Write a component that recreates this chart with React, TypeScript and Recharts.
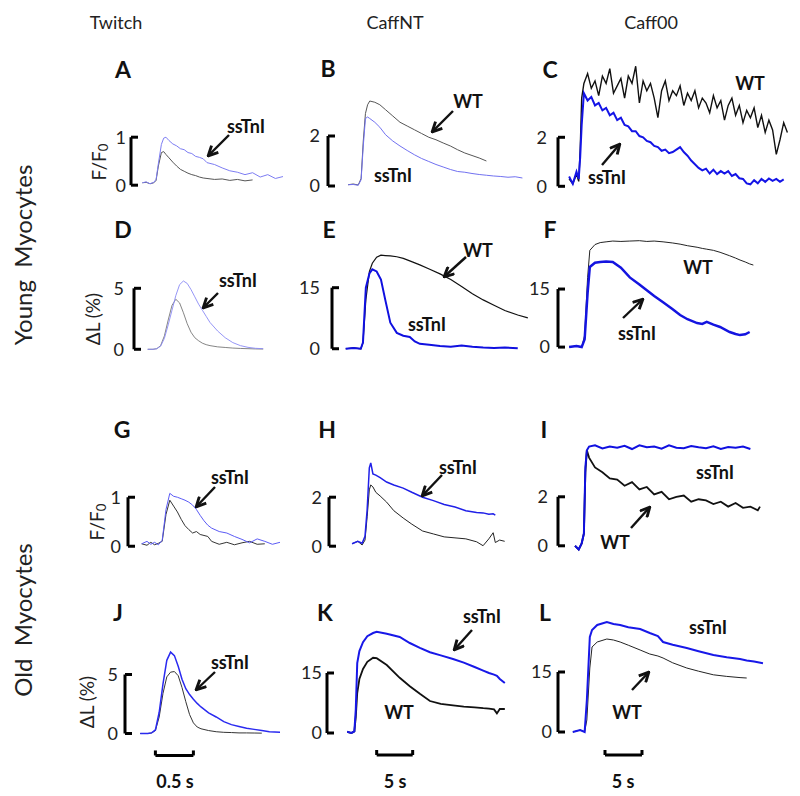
import React from 'react';
import { LineChart, Line, XAxis, YAxis, ReferenceLine } from 'recharts';

const FONT = 'Lato, "Open Sans", sans-serif';

// ---- Twitch column (time in s) ----
const tA = [0.15, 0.2, 0.25, 0.3, 0.33, 0.36, 0.4, 0.43, 0.46, 0.5, 0.55, 0.6, 0.65, 0.7, 0.75, 0.8, 0.85, 0.9, 0.95, 1.0, 1.1, 1.2, 1.3, 1.4, 1.5, 1.6, 1.7, 1.8, 1.9, 2.0];
const wtA = [0.05, 0.06, 0.03, 0.05, 0.1, 0.4, 0.68, 0.7, 0.64, 0.57, 0.48, 0.4, 0.33, 0.29, 0.25, 0.22, 0.2, 0.17, 0.15, 0.14, 0.12, 0.13, 0.1, 0.12, 0.09, 0.11, null, null, null, null];
const ssA = [0.05, 0.07, 0.03, 0.06, 0.12, 0.45, 0.85, 0.98, 1.0, 0.93, 0.86, 0.82, 0.76, 0.74, 0.68, 0.66, 0.6, 0.58, 0.55, 0.47, 0.43, 0.36, 0.3, 0.27, 0.22, 0.26, 0.17, 0.22, 0.14, 0.18];

const tD = [0.18, 0.25, 0.3, 0.35, 0.4, 0.45, 0.5, 0.55, 0.6, 0.65, 0.7, 0.75, 0.8, 0.85, 0.9, 0.95, 1.0, 1.1, 1.2, 1.3, 1.4, 1.5, 1.6, 1.7];
const wtD = [0, 0, 0.05, 0.3, 1.1, 2.4, 3.6, 4.1, 3.8, 3.0, 2.1, 1.4, 0.95, 0.7, 0.5, 0.38, 0.3, 0.2, 0.15, 0.1, 0.07, 0.05, 0.03, 0.02];
const ssD = [0, 0, 0.05, 0.25, 0.9, 2.0, 3.2, 4.4, 5.3, 5.6, 5.4, 4.9, 4.3, 3.7, 3.2, 2.7, 2.2, 1.5, 0.95, 0.55, 0.3, 0.16, 0.08, 0.05];

const tG = [0.18, 0.25, 0.3, 0.35, 0.4, 0.45, 0.5, 0.55, 0.6, 0.65, 0.7, 0.75, 0.8, 0.85, 0.9, 0.95, 1.0, 1.05, 1.1, 1.2, 1.3, 1.4, 1.5, 1.6, 1.7, 1.8, 1.9, 2.0];
const wtG = [0.05, 0.02, 0.08, 0.03, 0.06, 0.1, 0.65, 0.94, 0.82, 0.7, 0.55, 0.42, 0.34, 0.27, 0.3, 0.24, 0.22, 0.2, 0.1, 0.04, 0.08, 0.03, 0.07, 0.1, 0.04, 0.05, null, null];
const ssG = [0.05, 0.1, 0.04, 0.08, 0.03, 0.12, 0.75, 1.08, 1.02, 1.0, 0.97, 0.94, 0.9, 0.84, 0.75, 0.63, 0.52, 0.43, 0.37, 0.3, 0.27, 0.2, 0.14, 0.07, 0.15, 0.1, 0.04, 0.08];

const tJ = [0.2, 0.3, 0.35, 0.4, 0.45, 0.5, 0.55, 0.6, 0.65, 0.7, 0.75, 0.8, 0.85, 0.9, 0.95, 1.0, 1.1, 1.2, 1.3, 1.4, 1.5, 1.6, 1.7, 1.8, 1.9, 2.04];
const wtJ = [0, 0, 0.05, 0.25, 1.4, 3.4, 4.8, 5.2, 5.25, 4.9, 3.9, 2.7, 1.6, 0.9, 0.55, 0.4, 0.25, 0.15, 0.1, 0.08, 0.05, 0.05, 0.04, 0.03, null, null];
const ssJ = [0, 0, 0.05, 0.3, 1.8, 4.2, 6.2, 6.9, 6.6, 5.7, 4.6, 3.8, 3.3, 2.9, 2.55, 2.25, 1.75, 1.4, 1.0, 0.75, 0.6, 0.45, 0.35, 0.25, 0.15, 0.1];

// ---- CaffNT column ----
const tB = [2.8, 3.5, 4.2, 4.6, 4.9, 5.2, 5.5, 5.8, 6.5, 7.2, 8, 9, 10, 11, 12, 13, 14, 15, 16, 17, 18, 19, 20, 21, 22, 23, 24, 25, 26, 27];
const wtB = [0.05, 0.08, 0.04, 0.3, 1.8, 2.9, 3.25, 3.4, 3.35, 3.25, 3.05, 2.8, 2.55, 2.4, 2.25, 2.1, 1.95, 1.85, 1.72, 1.6, 1.45, 1.32, 1.22, 1.12, 1.0, null, null, null, null, null];
const ssB = [0.05, 0.06, 0.03, 0.25, 1.6, 2.7, 2.76, 2.7, 2.55, 2.35, 2.05, 1.8, 1.6, 1.42, 1.25, 1.1, 0.98, 0.86, 0.76, 0.66, 0.58, 0.55, 0.5, 0.46, 0.43, 0.4, 0.38, 0.35, 0.37, 0.32];

const tE = [1.9, 3, 4, 4.3, 4.7, 5.2, 5.6, 6.2, 6.8, 7.4, 8.1, 9, 9.9, 10.8, 11.5, 12.2, 13.5, 15, 16.5, 18, 19.5, 21, 22.5, 24, 25.8, 27.2];
const wtE = [0, 0.2, 0, 1.5, 12, 19, 21, 22.5, 23, 22.9, 22.8, 22.6, 22.2, 21.6, 21.1, 20.6, 19.6, 18.4, 17.0, 15.3, 13.5, 12.0, 10.7, 9.4, 8.3, 7.6];
const ssE = [0, 0.2, 0, 1.5, 15, 18.5, 19.5, 19, 17, 12, 6.4, 3.9, 3.2, 2.9, 1.8, 1.2, 1.0, 0.7, 0.5, 0.8, 0.5, 0.3, 0.2, 0.3, 0.1, null];

const tH = [3.2, 4, 4.6, 5, 5.3, 5.6, 5.8, 6.1, 6.5, 7.1, 8, 9, 10.3, 11.5, 13, 14.5, 16, 17.5, 19, 20.5, 21.4, 22.2, 22.8, 23.1, 23.7, 24.4];
const wtH = [0.1, 0.2, 0.05, 0.25, 1.2, 2.3, 2.5, 2.42, 2.2, 2.05, 1.8, 1.45, 1.15, 0.9, 0.62, 0.5, 0.38, 0.34, 0.3, 0.18, 0.02, 0.3, 0.55, 0.15, 0.25, 0.2];
const ssH = [0.1, 0.2, 0.12, 0.4, 1.5, 3.2, 3.4, 2.95, 2.9, 2.8, 2.62, 2.5, 2.37, 2.2, 2.0, 1.86, 1.7, 1.6, 1.45, 1.38, 1.36, 1.3, 1.32, 1.27, null, null];

const tK = [2.8, 3.4, 3.8, 4.0, 4.2, 4.5, 5.0, 5.6, 6.4, 6.9, 8.3, 10.1, 11.5, 12.9, 14.3, 15.8, 17.5, 19, 20.5, 21.7, 22.5, 23.2, 23.6, 24, 24.7];
const wtK = [0.3, 0, 0.4, 4, 10, 13.5, 16, 17.8, 18.8, 18.7, 17, 13.8, 11.7, 9.8, 8, 7.3, 6.9, 6.6, 6.4, 6.2, 6.1, 5.9, 4.9, 6.0, 6.0];
const ssK = [0.3, 0, 0.4, 6, 17.5, 20.5, 22.7, 24.2, 25, 25.3, 24.8, 24, 22.5, 21.3, 20.2, 19.4, 18.5, 17.6, 16.5, 15.6, 15, 14.6, 14.3, 13.5, 12.5];

// ---- Caff00 column ----
const tC = [1.5, 2, 2.5, 2.8, 3.0, 3.2, 3.5, 4, 4.5, 5, 5.5, 6, 6.5, 7, 7.5, 8, 8.5, 9, 9.5, 10, 10.5, 11, 11.5, 12, 12.5, 13, 13.5, 14, 14.5, 15, 15.5, 16, 16.5, 17, 17.5, 18, 18.5, 19, 19.5, 20, 20.5, 21, 21.5, 22, 22.5, 23, 23.5, 24, 24.5, 25, 25.5, 26, 26.5, 27, 27.5, 28, 28.5, 29, 29.5, 30, 30.5, 31];
const wtC = [0.3, 0.1, 0.5, 0.2, 1.5, 3.6, 4.2, 4.6, 4.0, 4.3, 3.7, 4.5, 4.2, 4.8, 3.8, 4.1, 4.4, 3.6, 4.5, 4.2, 4.9, 3.4, 4.3, 3.9, 4.2, 3.6, 2.8, 3.9, 4.3, 3.5, 3.9, 3.7, 4.1, 3.3, 3.8, 3.5, 3.9, 3.2, 3.6, 3.4, 3.0, 3.7, 3.2, 3.5, 2.7, 3.3, 3.6, 2.9, 3.3, 2.6, 3.1, 2.8, 3.2, 2.4, 2.9, 2.2, 2.7, 2.3, 1.3, 1.9, 2.6, 2.2];
const ssC = [0.4, 0.1, 0.6, 0.3, 1.2, 2.5, 3.8, 3.5, 3.65, 3.3, 3.4, 3.1, 3.2, 2.9, 3.0, 2.7, 2.8, 2.5, 2.45, 2.25, 2.25, 2.05, 2.0, 1.85, 1.8, 1.65, 1.6, 1.45, 1.5, 1.35, 1.4, 1.5, 1.6, 1.4, 1.25, 1.05, 0.9, 0.75, 0.65, 0.72, 0.52, 0.68, 0.5, 0.62, 0.52, 0.62, 0.42, 0.5, 0.33, 0.3, 0.12, 0.08, 0.25, 0.12, 0.3, 0.18, 0.32, 0.22, 0.3, 0.18, 0.28, null];

const tF = [1.5, 2.5, 3.2, 3.6, 4.0, 4.3, 5, 5.7, 6.5, 7.4, 8.5, 9.7, 11, 12, 13, 14.2, 15.5, 16.5, 17.5, 18.8, 19.5, 20.1, 21, 21.9, 23.2, 24, 24.6, 25.3, 25.9, 26.4];
const wtF = [0, 0.3, 0, 3, 18, 25, 26.5, 27, 27.2, 27.4, 27.3, 27.4, 27.5, 27.3, 27.4, 27.2, 26.9, 26.6, 26.2, 25.8, 25.5, 25.3, 25, 24.5, 23.6, 23, 22.5, 22, 21.5, 21.2];
const ssF = [0, 0.3, 0, 2, 14, 20.7, 21.8, 22, 22.1, 22, 20.5, 18, 16.2, 14.7, 13.2, 11.6, 9.8, 8.3, 7.2, 6.2, 6.0, 6.5, 5.8, 5.2, 3.9, 3.4, 3.1, 3.3, 3.9, null];

const tI = [2.3, 2.8, 3.2, 3.5, 3.7, 3.9, 4.2, 5, 6, 7, 8, 9, 10, 11, 12, 13, 14, 15, 16, 17, 18, 19, 20, 21, 22, 23, 24, 25, 26, 27, 27.3];
const wtI = [0, -0.15, 0.1, 0.5, 3.0, 3.9, 3.6, 3.2, 3.0, 2.75, 2.7, 2.45, 2.6, 2.3, 2.4, 2.1, 2.2, 1.9, 2.0, 2.05, 1.8, 1.9, 1.85, 1.7, 1.8, 1.6, 1.75, 1.55, 1.6, 1.45, 1.6];
const ssI = [0, -0.15, 0.1, 0.5, 3.2, 3.9, 4.05, 4.1, 3.97, 4.05, 4.0, 4.08, 3.95, 4.1, 4.02, 4.05, 3.96, 4.1, 4.0, 3.98, 4.07, 4.02, 3.98, 4.06, 3.95, 4.03, 4.0, 4.05, 3.95, null, null];

const tL = [2, 3, 3.6, 3.9, 4.3, 4.6, 5.3, 6.6, 7.5, 8.4, 9.5, 11.1, 12.4, 13.5, 14.2, 15.5, 17.4, 19, 21, 22.8, 24.6, 25.5, 26.5, 27.7];
const wtL = [0, 0.5, 0, 3, 16, 21.25, 22.5, 23.25, 23, 22.5, 21.7, 20.5, 19.5, 19, 18.5, 17.3, 16, 15.2, 14.3, 13.9, 13.6, 13.5, null, null];
const ssL = [0, 0.5, 0, 8, 23.75, 25.5, 26.75, 27.5, 27, 26.75, 26.2, 25.75, 24.75, 24, 22.5, 21.8, 21, 20.2, 19.25, 18.7, 18.25, 17.9, 17.6, 17.2];

type Style = { c: string; w: number };
type PanelCfg = {
  t: number[]; wt: (number | null)[]; ss: (number | null)[];
  bar: number; barX: number; zero: number; ppu: number; pps: number;
  tHi: number; yMin: number; yMax: number; gap: number;
  wtS: Style; ssS: Style; timeBar?: [number, number, number];
};

const panels: PanelCfg[] = [
  { t: tA, wt: wtA, ss: ssA, bar: 1, barX: 131, zero: 185, ppu: 48, pps: 76, tHi: 2.1, yMin: -0.15, yMax: 1.15, gap: 1, wtS: { c: '#555', w: 1 }, ssS: { c: '#7c7cf2', w: 1 } },
  { t: tB, wt: wtB, ss: ssB, bar: 2, barX: 328, zero: 186, ppu: 25, pps: 7.2, tHi: 28, yMin: -0.3, yMax: 3.8, gap: 4, wtS: { c: '#555', w: 1 }, ssS: { c: '#7070f0', w: 1 } },
  { t: tC, wt: wtC, ss: ssC, bar: 2, barX: 558, zero: 186, ppu: 24.5, pps: 7.4, tHi: 32, yMin: -0.5, yMax: 5.4, gap: 7, wtS: { c: '#111', w: 1.4 }, ssS: { c: '#1414e6', w: 2 } },
  { t: tD, wt: wtD, ss: ssD, bar: 5, barX: 134, zero: 349, ppu: 12.2, pps: 76, tHi: 1.8, yMin: -0.5, yMax: 6.5, gap: 6, wtS: { c: '#666', w: 0.8 }, ssS: { c: '#8a8af5', w: 0.9 } },
  { t: tE, wt: wtE, ss: ssE, bar: 15, barX: 332, zero: 349, ppu: 4.07, pps: 7.2, tHi: 28, yMin: -2, yMax: 25, gap: 8, wtS: { c: '#111', w: 1.2 }, ssS: { c: '#1010e0', w: 2 } },
  { t: tF, wt: wtF, ss: ssF, bar: 15, barX: 558, zero: 347, ppu: 3.87, pps: 7.4, tHi: 27, yMin: -2, yMax: 30, gap: 4, wtS: { c: '#222', w: 1 }, ssS: { c: '#1414e0', w: 2.5 } },
  { t: tG, wt: wtG, ss: ssG, bar: 1, barX: 128, zero: 546, ppu: 49, pps: 76, tHi: 2.1, yMin: -0.15, yMax: 1.25, gap: 3, wtS: { c: '#333', w: 1 }, ssS: { c: '#5a5af5', w: 1 } },
  { t: tH, wt: wtH, ss: ssH, bar: 2, barX: 329, zero: 546, ppu: 24.5, pps: 7.2, tHi: 25, yMin: -0.3, yMax: 3.6, gap: 3, wtS: { c: '#222', w: 1 }, ssS: { c: '#2020e8', w: 1.5 } },
  { t: tI, wt: wtI, ss: ssI, bar: 2, barX: 558, zero: 546, ppu: 24.5, pps: 7.4, tHi: 28, yMin: -0.4, yMax: 4.4, gap: 6, wtS: { c: '#111', w: 1.8 }, ssS: { c: '#1010e0', w: 2 } },
  { t: tJ, wt: wtJ, ss: ssJ, bar: 5, barX: 125, zero: 733, ppu: 11.8, pps: 76, tHi: 2.1, yMin: -2.5, yMax: 7.5, gap: 3, wtS: { c: '#333', w: 1 }, ssS: { c: '#2a2af0', w: 1.5 }, timeBar: [0.4, 0.9, -1.86] },
  { t: tK, wt: wtK, ss: ssK, bar: 15, barX: 327, zero: 733, ppu: 4, pps: 7.2, tHi: 25.5, yMin: -7, yMax: 27, gap: 1, wtS: { c: '#111', w: 1.8 }, ssS: { c: '#1818e8', w: 2 }, timeBar: [6.9, 11.9, -5.5] },
  { t: tL, wt: wtL, ss: ssL, bar: 15, barX: 558, zero: 732, ppu: 4, pps: 7.4, tHi: 28.5, yMin: -7, yMax: 29, gap: 2, wtS: { c: '#222', w: 1 }, ssS: { c: '#1818e8', w: 2 }, timeBar: [6.35, 11.35, -5.75] },
];

const letters: [string, number, number][] = [
  ['A', 123, 69], ['B', 328, 68], ['C', 550, 69],
  ['D', 123, 229], ['E', 329, 229], ['F', 550, 229],
  ['G', 122, 429], ['H', 327, 429], ['I', 544, 429],
  ['J', 118, 612], ['K', 325, 612], ['L', 545, 612],
];

const labels: [string, number, number][] = [
  ['ssTnI', 246, 126], ['WT', 468, 101], ['ssTnI', 393, 175], ['WT', 750, 83], ['ssTnI', 607, 177],
  ['ssTnI', 238, 280], ['WT', 478, 250], ['ssTnI', 427, 324], ['WT', 698, 267], ['ssTnI', 637, 333],
  ['ssTnI', 230, 477], ['ssTnI', 458, 467], ['ssTnI', 715, 472], ['WT', 615, 542],
  ['ssTnI', 230, 662], ['ssTnI', 482, 616], ['WT', 399, 712], ['ssTnI', 708, 627], ['WT', 627, 712],
];

const arrows: [number, number, number, number][] = [
  [229, 135, 209, 155], [453, 111, 433, 131], [602, 165, 619, 145],
  [218, 293, 204, 307], [466, 257, 445, 276], [623, 318, 642, 300],
  [215, 487, 197, 506], [442, 475, 423, 495], [631, 528, 649, 508],
  [215, 672, 197, 689], [472, 630, 455, 649], [632, 690, 648, 673],
];

const timeLabels: [string, number, number][] = [['0.5 s', 175, 781], ['5 s', 395, 781], ['5 s', 623, 781]];

function Panel({ p }: { p: PanelCfg }) {
  const yW = 40;
  const pad = 4;
  const m = 14;
  const tLo = -pad / p.pps;
  const plotW = (p.tHi - tLo) * p.pps;
  const plotH = (p.yMax - p.yMin) * p.ppu;
  const top = p.zero - p.yMax * p.ppu - m;
  const left = p.barX - pad - yW;
  const data = p.t.map((t, i) => ({ t, wt: p.wt[i], ss: p.ss[i] }));
  const stub = 7 / p.pps;
  const tick = 5 / p.ppu;
  const bl = { stroke: '#000', strokeWidth: 3, ifOverflow: 'visible' as const };
  return (
    <div style={{ position: 'absolute', left, top }}>
      <LineChart width={yW + plotW} height={plotH + 2 * m} data={data} margin={{ top: m, right: 0, bottom: m, left: 0 }}>
        <XAxis dataKey="t" type="number" domain={[tLo, p.tHi]} allowDataOverflow hide />
        <YAxis
          type="number"
          domain={[p.yMin, p.yMax]}
          allowDataOverflow
          ticks={[0, p.bar]}
          interval={0}
          width={yW}
          axisLine={false}
          tickLine={false}
          tickSize={0}
          tickMargin={p.gap}
          tick={{ fill: '#222', fontSize: 18, fontFamily: FONT }}
        />
        <ReferenceLine segment={[{ x: 0, y: 0 }, { x: 0, y: p.bar }]} {...bl} />
        <ReferenceLine segment={[{ x: 0, y: 0 }, { x: stub, y: 0 }]} {...bl} />
        <ReferenceLine segment={[{ x: 0, y: p.bar }, { x: stub, y: p.bar }]} {...bl} />
        {p.timeBar && (
          <>
            <ReferenceLine segment={[{ x: p.timeBar[0], y: p.timeBar[2] }, { x: p.timeBar[1], y: p.timeBar[2] }]} {...bl} />
            <ReferenceLine segment={[{ x: p.timeBar[0], y: p.timeBar[2] }, { x: p.timeBar[0], y: p.timeBar[2] + tick }]} {...bl} />
            <ReferenceLine segment={[{ x: p.timeBar[1], y: p.timeBar[2] }, { x: p.timeBar[1], y: p.timeBar[2] + tick }]} {...bl} />
          </>
        )}
        <Line type="linear" dataKey="wt" stroke={p.wtS.c} strokeWidth={p.wtS.w} dot={false} isAnimationActive={false} />
        <Line type="linear" dataKey="ss" stroke={p.ssS.c} strokeWidth={p.ssS.w} dot={false} isAnimationActive={false} />
      </LineChart>
    </div>
  );
}

function Sub({ x, y, text }: { x: number; y: number; text: string }) {
  return (
    <text x={x} y={y} transform={`rotate(-90 ${x} ${y})`} textAnchor="middle" dominantBaseline="central" fontSize={19} fontFamily={FONT} fill="#222">
      {text === 'F' ? (<>F/F<tspan fontSize={13} dy={5}>0</tspan></>) : text}
    </text>
  );
}

export default function App() {
  return (
    <div style={{ position: 'absolute', left: 0, top: 0, width: 800, height: 796, background: '#fff', overflow: 'hidden' }}>
      {panels.map((p, i) => (
        <Panel key={i} p={p} />
      ))}
      <svg width={800} height={796} style={{ position: 'absolute', left: 0, top: 0, pointerEvents: 'none' }}>
        <defs>
          <marker id="ah" viewBox="0 0 10 10" refX="8" refY="5" markerWidth="12" markerHeight="12" markerUnits="userSpaceOnUse" orient="auto">
            <path d="M1,1 L9,5 L1,9" fill="none" stroke="#111" strokeWidth={2.4} />
          </marker>
        </defs>
        {[['Twitch', 116], ['CaffNT', 395], ['Caff00', 651]].map(([s, x]) => (
          <text key={s as string} x={x as number} y={22} textAnchor="middle" dominantBaseline="central" fontSize={18} fontFamily={FONT} fill="#222">{s}</text>
        ))}
        <text x={22} y={255} transform="rotate(-90 22 255)" textAnchor="middle" dominantBaseline="central" fontSize={24} fontFamily={FONT} fill="#222" style={{ whiteSpace: 'pre' }}>{'Young  Myocytes'}</text>
        <text x={22} y={620} transform="rotate(-90 22 620)" textAnchor="middle" dominantBaseline="central" fontSize={24} fontFamily={FONT} fill="#222" style={{ whiteSpace: 'pre' }}>{'Old  Myocytes'}</text>
        <Sub x={98} y={162} text="F" />
        <Sub x={96} y={522} text="F" />
        <Sub x={92} y={319} text="ΔL (%)" />
        <Sub x={86} y={702} text="ΔL (%)" />
        {letters.map(([s, x, y]) => (
          <text key={s} x={x} y={y} textAnchor="middle" dominantBaseline="central" fontSize={23} fontWeight="bold" fontFamily={FONT} fill="#111">{s}</text>
        ))}
        {labels.map(([s, x, y], i) => (
          <text key={i} x={x} y={y} textAnchor="middle" dominantBaseline="central" fontSize={18} fontWeight="bold" fontFamily={FONT} fill="#111">{s}</text>
        ))}
        {arrows.map(([x1, y1, x2, y2], i) => (
          <line key={i} x1={x1} y1={y1} x2={x2} y2={y2} stroke="#111" strokeWidth={2.4} markerEnd="url(#ah)" />
        ))}
        {timeLabels.map(([s, x, y], i) => (
          <text key={i} x={x} y={y} textAnchor="middle" dominantBaseline="central" fontSize={18} fontWeight="bold" fontFamily={FONT} fill="#111">{s}</text>
        ))}
      </svg>
    </div>
  );
}
